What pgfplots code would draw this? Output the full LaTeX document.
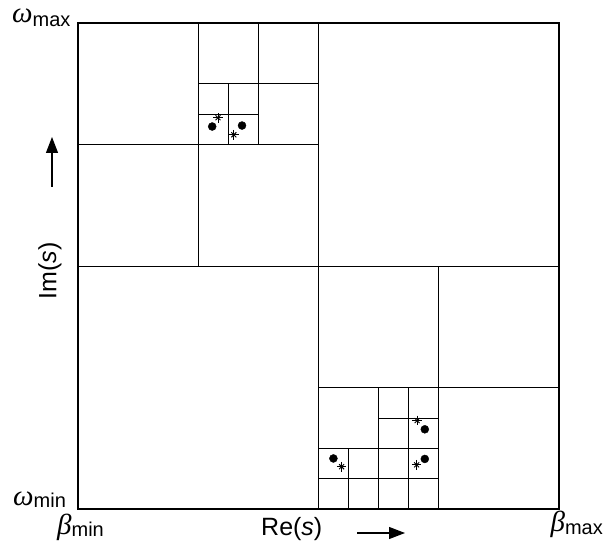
\documentclass[border=0pt]{standalone}
\usepackage{pgfplots}
\pgfplotsset{compat=1.18}
\usepackage{fontspec}
\setmainfont{Liberation Sans}
\newfontfamily\grk{Liberation Serif}
\usetikzlibrary{arrows.meta}
\begin{document}
\begin{tikzpicture}[x=1pt,y=1pt]
\path[use as bounding box] (0,0) rectangle (604,551);
\begin{axis}[at={(78pt,42pt)}, anchor=south west, scale only axis,
  width=481pt, height=486pt, xmin=0, xmax=1, ymin=0, ymax=1,
  ticks=none, axis line style={line width=1.2pt}, clip=false,
  cycle list={{black, no markers, line width=1.1pt}}]
% quadtree cell boundaries
\addplot coordinates {(0,0.5) (1,0.5)};
\addplot coordinates {(0.5,0) (0.5,1)};
\addplot coordinates {(0.25,0.5) (0.25,1)};
\addplot coordinates {(0,0.75) (0.5,0.75)};
\addplot coordinates {(0.375,0.75) (0.375,1)};
\addplot coordinates {(0.25,0.875) (0.5,0.875)};
\addplot coordinates {(0.3125,0.75) (0.3125,0.875)};
\addplot coordinates {(0.25,0.8125) (0.375,0.8125)};
\addplot coordinates {(0.75,0) (0.75,0.5)};
\addplot coordinates {(0.5,0.25) (1,0.25)};
\addplot coordinates {(0.625,0) (0.625,0.25)};
\addplot coordinates {(0.5,0.125) (0.75,0.125)};
\addplot coordinates {(0.6875,0) (0.6875,0.25)};
\addplot coordinates {(0.625,0.1875) (0.75,0.1875)};
\addplot coordinates {(0.5625,0) (0.5625,0.125)};
\addplot coordinates {(0.5,0.0625) (0.75,0.0625)};
% poles (dots)
\addplot[black, only marks, mark=*, mark size=4pt] coordinates {
 (0.279,0.787) (0.341,0.789) (0.531,0.104) (0.721,0.164) (0.721,0.103)};
% zeros (stars)
\addplot[black, only marks, mark=+, mark size=4.8pt, line width=0.9pt] coordinates {
 (0.291,0.805) (0.324,0.770) (0.548,0.087) (0.705,0.182) (0.704,0.091)};
\addplot[black, only marks, mark=x, mark size=3.5pt, line width=0.9pt] coordinates {
 (0.291,0.805) (0.324,0.770) (0.548,0.087) (0.705,0.182) (0.704,0.091)};
\end{axis}
% labels
\node[anchor=base west, inner sep=0] at (12,528) {\fontsize{29}{30}\selectfont\grk\itshape ω\raisebox{-4pt}{\fontsize{20}{22}\selectfont\normalfont max}};
\node[anchor=base west, inner sep=0] at (13,46) {\fontsize{29}{30}\selectfont\grk\itshape ω\raisebox{-2pt}{\fontsize{20}{22}\selectfont\normalfont min}};
\node[anchor=base west, inner sep=0] at (57,17) {\fontsize{29}{30}\selectfont\grk\itshape β\raisebox{-2pt}{\fontsize{20}{22}\selectfont\normalfont min}};
\node[anchor=base east, inner sep=0] at (603,20) {\fontsize{29}{30}\selectfont\grk\itshape β\raisebox{-3pt}{\fontsize{20}{22}\selectfont\normalfont max}};
\node[anchor=base west, inner sep=0] at (261,16) {\fontsize{25}{28}\selectfont Re(\textit{s})};
\draw[-{Triangle[length=16pt,width=12pt]}, line width=1.1pt] (357,18) -- (405,18);
\node[rotate=90, inner sep=0] at (50,280) {\fontsize{25}{28}\selectfont Im(\textit{s})};
\draw[-{Triangle[length=16pt,width=12pt]}, line width=1.1pt] (52,364) -- (52,414);
\end{tikzpicture}
\end{document}
